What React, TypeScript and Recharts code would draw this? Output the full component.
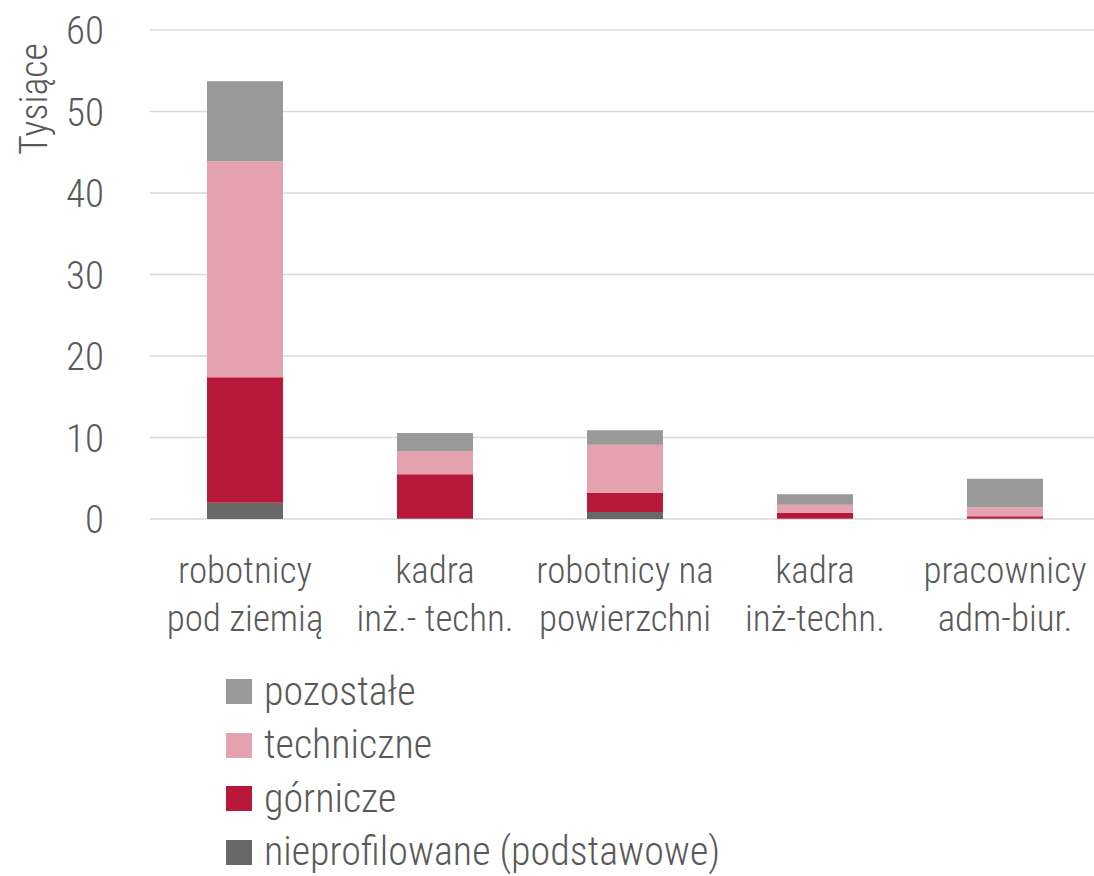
import React from "react";
import { BarChart, Bar, XAxis, YAxis, CartesianGrid, Legend } from "recharts";

const categories = [
  "robotnicy\npod ziemią",
  "kadra\ninż.- techn.",
  "robotnicy na\npowierzchni",
  "kadra\ninż-techn.",
  "pracownicy\nadm-biur.",
];

const nieprofilowane = [2.0, 0.1, 0.85, 0.05, 0.05];
const gornicze = [15.4, 5.4, 2.35, 0.7, 0.3];
const techniczne = [26.5, 2.85, 5.9, 1.0, 1.1];
const pozostale = [9.8, 2.2, 1.8, 1.3, 3.5];

const yTicks = [0, 10, 20, 30, 40, 50, 60];

const series = [
  { key: "nieprofilowane", name: "nieprofilowane (podstawowe)", color: "#686868" },
  { key: "gornicze", name: "górnicze", color: "#b8183a" },
  { key: "techniczne", name: "techniczne", color: "#e3a2ae" },
  { key: "pozostale", name: "pozostałe", color: "#999999" },
];

const data = categories.map((c, i) => ({
  name: c,
  nieprofilowane: nieprofilowane[i],
  gornicze: gornicze[i],
  techniczne: techniczne[i],
  pozostale: pozostale[i],
}));

const FONT = "'Roboto Condensed', 'Liberation Sans Narrow', 'DejaVu Sans Condensed', Roboto, sans-serif";
const TEXT = "#595959";

const XTick = (props: any) => {
  const { x, y, payload } = props;
  const lines = String(payload.value).split("\n");
  return (
    <g transform={`translate(${x},${y})`}>
      {lines.map((l, i) => (
        <text key={i} x={0} y={56 + i * 48} textAnchor="middle" fill={TEXT} fontSize={37} fontFamily={FONT} fontWeight={300}>
          {l}
        </text>
      ))}
    </g>
  );
};

const YTick = (props: any) => {
  const { y, payload } = props;
  return (
    <text x={104} y={y + 14} textAnchor="end" fill={TEXT} fontSize={39} fontFamily={FONT} fontWeight={300}>
      {payload.value}
    </text>
  );
};

const YLabel = () => (
  <text
    transform="translate(47,99) rotate(-90)"
    textAnchor="middle"
    fill={TEXT}
    fontSize={38}
    fontFamily={FONT}
    fontWeight={300}
  >
    Tysiące
  </text>
);

const LegendBox = () => (
  <div style={{ height: 205, fontFamily: FONT, fontWeight: 300, fontSize: 40, color: TEXT }}>
    {[...series].reverse().map((s) => (
      <div key={s.key} style={{ display: "flex", alignItems: "center", height: 53.5, whiteSpace: "nowrap" }}>
        <span style={{ width: 26, height: 25, background: s.color, display: "inline-block", marginRight: 12 }} />
        <span style={{ lineHeight: "40px" }}>{s.name}</span>
      </div>
    ))}
  </div>
);

export default function App() {
  return (
    <div style={{ position: "absolute", left: 0, top: 0, width: 1094, height: 876, overflow: "hidden", background: "#fff" }}>
      <BarChart width={1100} height={876} data={data} margin={{ top: 30, right: 0, left: 0, bottom: 0 }}>
        <CartesianGrid vertical={false} stroke="#d9d9d9" strokeWidth={1.5} />
        <XAxis dataKey="name" axisLine={false} tickLine={false} tick={<XTick />} height={152} interval={0} />
        <YAxis
          width={150}
          domain={[0, 60]}
          ticks={yTicks}
          axisLine={false}
          tickLine={false}
          tick={<YTick />}
          label={<YLabel />}
        />
        <Legend content={<LegendBox />} wrapperStyle={{ top: 665, left: 226, width: 800 }} verticalAlign="bottom" />
        {series.map((s) => (
          <Bar key={s.key} dataKey={s.key} name={s.name} stackId="a" fill={s.color} barSize={76} isAnimationActive={false} />
        ))}
      </BarChart>
    </div>
  );
}
